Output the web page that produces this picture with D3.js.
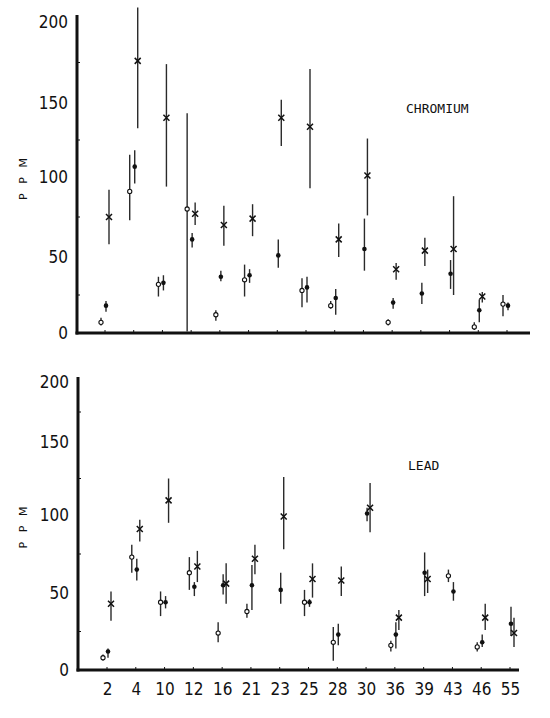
<!DOCTYPE html>
<html>
<head>
<meta charset="utf-8">
<script src="https://cdn.jsdelivr.net/npm/d3@7"></script>
<style>
  body { margin: 0; background: #fff; }
  svg { display: block; }
</style>
</head>
<body>
<div id="chart"></div>
<script>
// sites along the bottom axis
const categories = ["2", "4", "10", "12", "16", "21", "23", "25", "28", "30", "36", "39", "43", "46", "55"];
const yTicks = [0, 50, 100, 150, 200];
const yMinorTicks = [25, 75, 125, 175];

// each entry: [value, low, high], null where no sample
const crCircle = [[7, 5, 10], [91, 73, 115], [32, 24, 37], [80, 1, 143], [12, 8, 15], [35, 24, 45], null,
    [28, 17, 36], [18, 16, 21], null, [7, 5, 9], null, null, [4, 2, 7], [19, 11, 25]];
const crDot = [[18, 14, 21], [107, 96, 118], [33, 28, 38], [61, 56, 65], [37, 34, 41], [38, 33, 42], [51, 43, 61],
    [30, 20, 37], [23, 12, 29], [55, 41, 74], [20, 16, 23], [26, 19, 33], [39, 29, 48], [15, 7, 22], [18, 15, 20]];
const crCross = [[75, 58, 92], [176, 133, 209], [140, 94, 174], [77, 70, 84], [70, 57, 82], [74, 63, 83], [140, 121, 152],
    [134, 93, 171], [61, 50, 71], [101, 76, 126], [42, 35, 46], [54, 44, 62], [55, 25, 88], [24, 20, 27], null];

const pbCircle = [[8, 6, 10], [73, 63, 81], [44, 35, 51], [63, 52, 73], [24, 18, 31], [38, 34, 43], null,
    [44, 35, 52], [18, 6, 28], null, [16, 12, 19], null, [61, 57, 65], [15, 12, 18], null];
const pbDot = [[12, 8, 14], [65, 58, 72], [44, 40, 48], [54, 48, 57], [55, 49, 62], [55, 39, 68], [52, 43, 63],
    [44, 41, 46], [23, 16, 30], [101, 96, 105], [23, 14, 31], [63, 48, 76], [51, 45, 57], [18, 15, 23], [30, 22, 41]];
const pbCross = [[43, 32, 51], [91, 83, 97], [110, 95, 125], [67, 57, 77], [56, 43, 69], [72, 62, 81], [99, 78, 126],
    [59, 47, 69], [58, 48, 67], [105, 89, 122], [34, 26, 39], [59, 50, 65], null, [34, 26, 43], [24, 15, 34]];

const NUM_FONT = '"Liberation Sans Narrow", "DejaVu Sans Condensed", sans-serif';
const INK = '#111';

const svg = d3.select('#chart').append('svg')
    .attr('width', 550).attr('height', 718);

function drawPanel(options) {
    const { title, titleX, titleY, yRange, xRange, axisLeft, axisRight, axisTop, showLabels, series } = options;

    // the scanned scale is slightly uneven, so map each labelled value
    const y = d3.scaleLinear().domain(yTicks).range(yRange);
    const x = d3.scalePoint().domain(categories).range(xRange);
    const y0 = y(0);

    const g = svg.append('g');

    // y axis labels
    const yAxis = d3.axisLeft(y).tickValues(yTicks).tickSize(0).tickPadding(9);
    const ya = g.append('g').attr('transform', `translate(${axisLeft},0)`).call(yAxis);
    ya.select('.domain').remove();
    ya.selectAll('text')
        .style('font-family', NUM_FONT).style('font-size', '17px').style('fill', INK);

    // small marks half way between labels
    g.selectAll('.minor').data(yMinorTicks).join('line')
        .attr('x1', axisLeft + 1).attr('x2', axisLeft + 3)
        .attr('y1', d => y(d)).attr('y2', d => y(d))
        .style('stroke', INK).style('stroke-width', 1);

    // x axis
    const xAxis = d3.axisBottom(x).tickSize(0).tickPadding(13);
    const xa = g.append('g').attr('transform', `translate(0,${y0})`).call(xAxis);
    xa.select('.domain').remove();
    if (showLabels) {
        xa.selectAll('text')
            .style('font-family', NUM_FONT).style('font-size', '17px').style('fill', INK);
    } else {
        xa.selectAll('text').remove();
    }

    g.selectAll('.xtick').data(categories).join('line')
        .attr('x1', d => x(d)).attr('x2', d => x(d))
        .attr('y1', y0 - 3).attr('y2', y0)
        .style('stroke', INK).style('stroke-width', 1);

    // heavy frame lines
    g.append('line')
        .attr('x1', axisLeft).attr('x2', axisLeft)
        .attr('y1', axisTop).attr('y2', y0 + 1.5)
        .style('stroke', INK).style('stroke-width', 3);
    g.append('line')
        .attr('x1', axisLeft - 1.5).attr('x2', axisRight)
        .attr('y1', y0).attr('y2', y0)
        .style('stroke', INK).style('stroke-width', 3);

    // rotated unit label
    const midY = (y(0) + y(200)) / 2;
    g.append('text')
        .attr('transform', `translate(27,${midY}) rotate(-90)`)
        .attr('text-anchor', 'middle')
        .style('font-family', '"DejaVu Sans", sans-serif')
        .style('font-size', '11px')
        .style('letter-spacing', '3px')
        .style('fill', INK)
        .text('P P M');

    g.append('text')
        .attr('x', titleX).attr('y', titleY)
        .style('font-family', '"DejaVu Sans Mono", monospace')
        .style('font-size', '13px')
        .style('fill', INK)
        .text(title);

    series.forEach(s => {
        const pts = s.values
            .map((v, i) => v ? { cat: categories[i], val: v[0], lo: v[1], hi: v[2] } : null)
            .filter(d => d);
        const px = d => x(d.cat) + s.offset;

        g.append('g').selectAll('line').data(pts).join('line')
            .attr('x1', px).attr('x2', px)
            .attr('y1', d => y(d.lo)).attr('y2', d => y(d.hi))
            .style('stroke', '#2a2a2a').style('stroke-width', 1.4);

        const marks = g.append('g');
        if (s.kind === 'circle') {
            marks.selectAll('circle').data(pts).join('circle')
                .attr('cx', px).attr('cy', d => y(d.val)).attr('r', 2.1)
                .style('fill', '#fff').style('stroke', INK).style('stroke-width', 1.1);
        } else if (s.kind === 'dot') {
            marks.selectAll('circle').data(pts).join('circle')
                .attr('cx', px).attr('cy', d => y(d.val)).attr('r', 2.3)
                .style('fill', INK);
        } else {
            marks.selectAll('path').data(pts).join('path')
                .attr('d', 'M-3,-3L3,3M-3,3L3,-3')
                .attr('transform', d => `translate(${px(d)},${y(d.val)})`)
                .style('fill', 'none').style('stroke', INK).style('stroke-width', 1.5);
        }
    });
}

drawPanel({
    title: 'CHROMIUM', titleX: 406, titleY: 113,
    yRange: [333, 257, 177, 103, 22], xRange: [105, 507],
    axisLeft: 77, axisRight: 530, axisTop: 15, showLabels: false,
    series: [
        { kind: 'circle', offset: -4, values: crCircle },
        { kind: 'dot', offset: 1, values: crDot },
        { kind: 'cross', offset: 4, values: crCross }
    ]
});

drawPanel({
    title: 'LEAD', titleX: 408, titleY: 470,
    yRange: [670, 593, 515, 442, 382], xRange: [107, 510],
    axisLeft: 78, axisRight: 519, axisTop: 377, showLabels: true,
    series: [
        { kind: 'circle', offset: -4, values: pbCircle },
        { kind: 'dot', offset: 1, values: pbDot },
        { kind: 'cross', offset: 4, values: pbCross }
    ]
});
</script>
</body>
</html>
